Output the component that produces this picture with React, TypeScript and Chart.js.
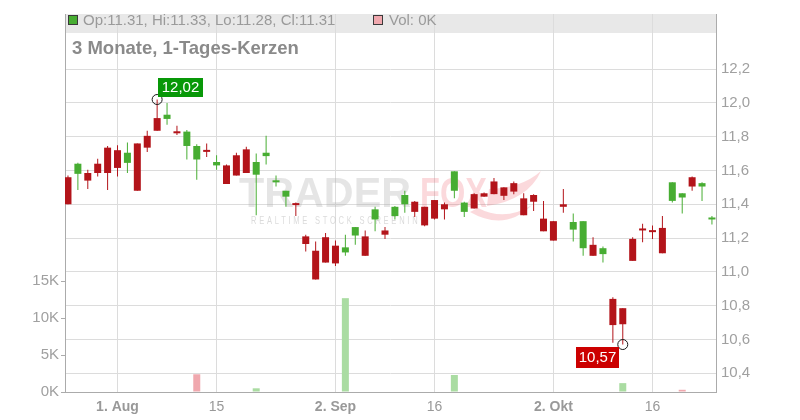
import { useEffect, useRef } from 'react';
import { Chart, registerables } from 'chart.js';

Chart.register(...registerables);

// Daily candles, 25 Jul 2024 .. 24 Oct 2024 (trading days, index 0..65)
const opens = [11.56, 11.58, 11.585, 11.64, 11.735, 11.72, 11.645, 11.76, 11.805, 11.91,
  11.905, 11.83, 11.745, 11.665, 11.72, 11.63, 11.63, 11.69, 11.725, 11.575,
  11.685, 11.53, 11.445, 11.405, 11.21, 11.125, 11.205, 11.155, 11.115, 11.215,
  11.21, 11.31, 11.245, 11.33, 11.40, 11.415, 11.385, 11.425, 11.40, 11.48,
  11.355, 11.46, 11.465, 11.535, 11.50, 11.525, 11.435, 11.455, 11.315, 11.30,
  11.40, 11.25, 11.14, 11.16, 11.105, 10.84, 10.785, 11.195, 11.255, 11.245,
  11.26, 11.42, 11.44, 11.56, 11.505, 11.31];
const highs = [11.57, 11.645, 11.605, 11.67, 11.745, 11.75, 11.765, 11.76, 11.835, 12.02,
  12.00, 11.865, 11.84, 11.755, 11.76, 11.69, 11.635, 11.705, 11.74, 11.70,
  11.805, 11.57, 11.48, 11.41, 11.22, 11.18, 11.23, 11.185, 11.22, 11.265,
  11.245, 11.385, 11.265, 11.39, 11.48, 11.42, 11.385, 11.425, 11.41, 11.595,
  11.415, 11.465, 11.47, 11.555, 11.50, 11.535, 11.465, 11.46, 11.42, 11.30,
  11.49, 11.345, 11.30, 11.205, 11.15, 10.85, 10.785, 11.205, 11.285, 11.275,
  11.33, 11.53, 11.465, 11.565, 11.53, 11.33];
const lows = [11.40, 11.485, 11.49, 11.565, 11.485, 11.565, 11.585, 11.48, 11.71, 11.835,
  11.87, 11.81, 11.665, 11.545, 11.68, 11.605, 11.52, 11.57, 11.585, 11.335,
  11.635, 11.505, 11.385, 11.33, 11.12, 10.955, 11.055, 11.035, 11.095, 11.16,
  11.095, 11.24, 11.195, 11.31, 11.35, 11.325, 11.27, 11.31, 11.31, 11.435,
  11.325, 11.375, 11.445, 11.46, 11.425, 11.46, 11.335, 11.36, 11.24, 11.185,
  11.35, 11.18, 11.095, 11.095, 11.055, 10.58, 10.57, 11.065, 11.175, 11.195,
  11.11, 11.41, 11.345, 11.48, 11.42, 11.28];
const closes = [11.40, 11.64, 11.54, 11.585, 11.585, 11.615, 11.705, 11.48, 11.735, 11.835,
  11.93, 11.82, 11.83, 11.745, 11.71, 11.65, 11.52, 11.57, 11.585, 11.65,
  11.705, 11.54, 11.48, 11.395, 11.165, 10.955, 11.055, 11.05, 11.145, 11.265,
  11.095, 11.37, 11.22, 11.385, 11.455, 11.355, 11.275, 11.315, 11.37, 11.595,
  11.41, 11.375, 11.445, 11.46, 11.45, 11.475, 11.335, 11.415, 11.24, 11.185,
  11.385, 11.295, 11.30, 11.095, 11.14, 10.685, 10.69, 11.065, 11.245, 11.235,
  11.11, 11.53, 11.465, 11.505, 11.525, 11.31];
const volumes = [0, 0, 0, 0, 0, 0, 0, 0, 0, 0,
  0, 0, 0, 2400, 0, 0, 0, 0, 0, 500,
  0, 0, 0, 0, 0, 0, 0, 0, 12700, 0,
  0, 0, 0, 0, 0, 0, 0, 0, 0, 2300,
  0, 0, 0, 0, 0, 0, 0, 0, 0, 0,
  0, 0, 0, 0, 0, 0, 1200, 0, 0, 0,
  0, 0, 300, 0, 0, 0];

const xTickIndex = [5, 15, 27, 37, 49, 59];
const xTickLabels = ['1. Aug', '15', '2. Sep', '16', '2. Okt', '16'];
const xTickBold = [true, false, true, false, true, false];
const priceTicks = [10.4, 10.6, 10.8, 11.0, 11.2, 11.4, 11.6, 11.8, 12.0, 12.2];
const volTicks = [0, 5000, 10000, 15000];

const TITLE = '3 Monate, 1-Tages-Kerzen';
const FONT = '"Liberation Sans", Arial, Helvetica, sans-serif';
const UP = '#47ad32';
const DOWN = '#b3141a';
const VOL_UP = '#aadca2';
const VOL_DOWN = '#f0a8ae';
const GRID = '#dcdcdc';
const AXIS = '#ababab';
const TEXT = '#a0a0a0';

const fmt = (v: number, d: number) => v.toFixed(d).replace('.', ',');

const decorPlugin = {
  id: 'decor',
  beforeDraw(chart: any) {
    const { ctx, chartArea } = chart;
    ctx.save();
    ctx.fillStyle = '#e8e8e8';
    ctx.fillRect(chartArea.left, chartArea.top, chartArea.right - chartArea.left, 19);
    ctx.restore();
  },
  beforeDatasetsDraw(chart: any) {
    const ctx = chart.ctx;
    ctx.save();
    const drawFit = (text: string, x: number, y: number, w: number) => {
      const m = ctx.measureText(text).width;
      ctx.save();
      ctx.translate(x, y);
      ctx.scale(w / m, 1);
      ctx.fillText(text, 0, 0);
      ctx.restore();
    };
    ctx.textAlign = 'left';
    ctx.textBaseline = 'alphabetic';
    ctx.font = `bold 43px ${FONT}`;
    ctx.fillStyle = 'rgba(175,175,175,0.32)';
    drawFit('TRADER', 239, 207, 172);
    ctx.fillStyle = 'rgba(235,80,95,0.22)';
    drawFit('FOX', 420, 207, 67);
    ctx.beginPath();
    ctx.moveTo(487, 206);
    ctx.quadraticCurveTo(528, 200, 541, 171);
    ctx.quadraticCurveTo(522, 188, 489, 189);
    ctx.closePath();
    ctx.fill();
    ctx.beginPath();
    ctx.moveTo(470, 212);
    ctx.quadraticCurveTo(505, 232, 532, 205);
    ctx.quadraticCurveTo(505, 222, 478, 208);
    ctx.closePath();
    ctx.fill();
    ctx.font = `11px ${FONT}`;
    ctx.fillStyle = 'rgba(175,175,175,0.45)';
    (ctx as any).letterSpacing = '4px';
    drawFit('REALTIME STOCK SCREENING', 251, 224, 178);
    ctx.restore();
  },
  afterDatasetsDraw(chart: any) {
    const { ctx } = chart;
    const xs = chart.scales.x;
    const ys = chart.scales.y;
    ctx.save();
    // high / low markers
    let hi = 0;
    highs.forEach((v, i) => { if (v > highs[hi]) hi = i; });
    let lo = 0;
    lows.forEach((v, i) => { if (v < lows[lo]) lo = i; });
    const hx = xs.getPixelForValue(hi);
    const hy = ys.getPixelForValue(highs[hi]);
    const lx = xs.getPixelForValue(lo);
    const ly = ys.getPixelForValue(lows[lo]);
    ctx.lineWidth = 1;
    ctx.strokeStyle = '#1a1a1a';
    ctx.beginPath();
    ctx.arc(hx, hy, 5, 0, Math.PI * 2);
    ctx.stroke();
    ctx.beginPath();
    ctx.arc(lx, ly, 5, 0, Math.PI * 2);
    ctx.stroke();
    ctx.font = `15px ${FONT}`;
    ctx.textAlign = 'center';
    ctx.textBaseline = 'middle';
    ctx.fillStyle = '#089808';
    ctx.fillRect(Math.round(hx + 0.5), Math.round(hy - 22), 45, 19);
    ctx.fillStyle = '#ffffff';
    ctx.fillText(fmt(highs[hi], 2), Math.round(hx + 0.5) + 22.5, Math.round(hy - 22) + 10);
    ctx.fillStyle = '#cc0000';
    ctx.fillRect(Math.round(lx - 46.5), Math.round(ly + 2), 43, 21);
    ctx.fillStyle = '#ffffff';
    ctx.fillText(fmt(lows[lo], 2), Math.round(lx - 46.5) + 21.5, Math.round(ly + 2) + 11);

    // legend row
    const n = opens.length - 1;
    const lastUp = closes[n] >= opens[n];
    const volUp = closes[n] >= closes[n - 1];
    ctx.fillStyle = lastUp ? UP : DOWN;
    ctx.fillRect(68, 15, 10, 10);
    ctx.strokeStyle = '#3a3a3a';
    ctx.strokeRect(68.5, 15.5, 9, 9);
    ctx.fillStyle = volUp ? VOL_UP : VOL_DOWN;
    ctx.fillRect(373, 15, 10, 10);
    ctx.strokeRect(373.5, 15.5, 9, 9);
    ctx.textAlign = 'left';
    ctx.textBaseline = 'alphabetic';
    ctx.font = `15px ${FONT}`;
    ctx.fillStyle = '#9a9a9a';
    ctx.fillText(`Op:${opens[n].toFixed(2)}, Hi:${highs[n].toFixed(2)}, Lo:${lows[n].toFixed(2)}, Cl:${closes[n].toFixed(2)}`, 83, 25);
    ctx.fillText(`Vol: ${Math.round(volumes[n] / 1000)}K`, 389, 25);
    // title
    ctx.font = `bold 18.5px ${FONT}`;
    ctx.fillStyle = '#8a8a8a';
    ctx.fillText(TITLE, 72, 54);
    ctx.restore();
  },
};

export default function App() {
  const ref = useRef<HTMLCanvasElement>(null);
  useEffect(() => {
    const idx = opens.map((_, i) => i);
    const candleColors = idx.map((i) => (closes[i] >= opens[i] ? UP : DOWN));
    const volColors = idx.map((i) => (i === 0 || closes[i] >= closes[i - 1] ? VOL_UP : VOL_DOWN));
    Chart.defaults.font.family = FONT;
    const chart = new Chart(ref.current as HTMLCanvasElement, {
      type: 'bar',
      data: {
        datasets: [
          {
            label: 'body',
            data: idx.map((i) => ({ x: i, y: [opens[i], closes[i]] })) as any,
            backgroundColor: candleColors,
            barThickness: 7,
            minBarLength: 2,
            grouped: false,
            inflateAmount: 0,
            borderWidth: 0,
            yAxisID: 'y',
            order: 1,
          } as any,
          {
            label: 'wick',
            data: idx.map((i) => ({ x: i, y: [lows[i], highs[i]] })) as any,
            backgroundColor: candleColors,
            barThickness: 1,
            grouped: false,
            inflateAmount: 0,
            borderWidth: 0,
            yAxisID: 'y',
            order: 2,
          } as any,
          {
            label: 'volume',
            data: idx.map((i) => ({ x: i, y: volumes[i] })) as any,
            backgroundColor: volColors,
            barThickness: 7,
            grouped: false,
            inflateAmount: 0,
            borderWidth: 0,
            yAxisID: 'yVol',
            order: 3,
          } as any,
        ],
      },
      options: {
        responsive: false,
        animation: false,
        devicePixelRatio: 1,
        layout: { padding: { top: 10, left: 0, right: 0, bottom: 0 } },
        plugins: { legend: { display: false }, tooltip: { enabled: false } },
        scales: {
          x: {
            type: 'linear',
            position: 'bottom',
            min: -0.3,
            max: 65.41,
            offset: false,
            grid: { color: GRID, drawTicks: false, offset: false },
            border: { display: true, color: AXIS },
            afterBuildTicks: (axis: any) => {
              axis.ticks = xTickIndex.map((v) => ({ value: v }));
            },
            afterFit: (s: any) => { s.height = 28; },
            ticks: {
              autoSkip: false,
              maxRotation: 0,
              padding: 7,
              color: '#999999',
              font: (c: any) => ({ size: 14, weight: xTickBold[c.index] ? 'bold' : 'normal', family: FONT }),
              callback: (_v: any, i: number) => xTickLabels[i],
            },
          },
          y: {
            type: 'linear',
            position: 'right',
            min: 10.289,
            max: 12.526,
            grid: { color: GRID, drawTicks: false },
            border: { display: true, color: AXIS },
            afterBuildTicks: (axis: any) => {
              axis.ticks = priceTicks.map((v) => ({ value: v }));
            },
            afterFit: (s: any) => { s.width = 84; },
            ticks: {
              padding: 5,
              color: TEXT,
              font: { size: 15, family: FONT },
              callback: (v: any) => fmt(Number(v), 1),
            },
          },
          yVol: {
            type: 'linear',
            position: 'left',
            min: 0,
            max: 51160,
            grid: { drawOnChartArea: false, drawTicks: true, tickLength: 4, tickColor: AXIS },
            border: { display: true, color: AXIS },
            afterBuildTicks: (axis: any) => {
              axis.ticks = volTicks.map((v) => ({ value: v }));
            },
            afterFit: (s: any) => { s.width = 65; },
            ticks: {
              padding: 2,
              color: TEXT,
              font: { size: 15, family: FONT },
              callback: (v: any) => `${Number(v) / 1000}K`,
            },
          },
        },
      } as any,
      plugins: [decorPlugin],
    });
    return () => chart.destroy();
  }, []);
  return (
    <canvas
      ref={ref}
      width={800}
      height={420}
      style={{ position: 'absolute', left: 0, top: 0, width: 800, height: 420, display: 'block' }}
    />
  );
}
